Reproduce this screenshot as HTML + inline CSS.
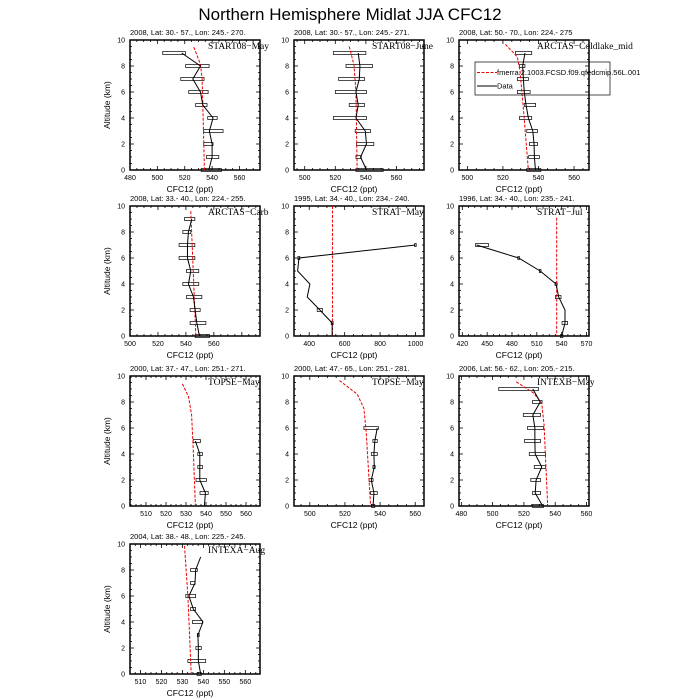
<!DOCTYPE html>
<html><head><meta charset="utf-8"><style>
body{margin:0;background:#fff;}
svg{display:block;font-family:"Liberation Sans",sans-serif;}
</style></head><body>
<svg id="chart" width="700" height="700">
<rect width="700" height="700" fill="#fff"/>
<text x="350" y="20" font-size="17" text-anchor="middle">Northern Hemisphere Midlat JJA CFC12</text>
</svg>
<script>
const panelTitles=["START08−May","START08−June","ARCTAS−Coldlake_mid","ARCTAS−Carb","STRAT−May","STRAT−Jul","TOPSE−May","TOPSE−May","INTEXB−May","INTEXA−Aug"];
const panelSubtitles=["2008, Lat:  30.- 57., Lon: 245.- 270.","2008, Lat:  30.- 57., Lon: 245.- 271.","2008, Lat:  50.- 70., Lon: 224.- 275","2008, Lat:  33.- 40., Lon: 224.- 255.","1995, Lat: 34.- 40., Lon: 234.- 240.","1996, Lat: 34.- 40., Lon: 235.- 241.","2000, Lat: 37.- 47., Lon: 251.- 271.","2000, Lat: 47.- 65., Lon: 251.- 281.","2006, Lat: 56.- 62., Lon: 205.- 215.","2004, Lat: 38.- 48., Lon: 225.- 245."];
const xDomains=[[480,575],[493,578],[495.3,568.4],[500,593],[314,1048],[416,573],[502,567],[491,565],[478.5,561.6],[505,567]];
const xTickStart=[480,500,500,500,400,420,510,500,480,510];
const xTickStep=[20,20,20,20,200,30,10,20,20,10];
const xTickEnd=[560,560,560,560,1000,570,560,560,560,560];
const dataAlts=[[9,8,7,6,5,4,3,2,1,0],[9,8,7,6,5,4,3,2,1,0],[9,8,7,6,5,4,3,2,1,0],[9,8,7,6,5,4,3,2,1,0],[7,6,5,4,3,2,1,0],[7,6,5,4,3,2,1,0],[5,4,3,2,1,0],[6,5,4,3,2,1,0],[9,8,7,6,5,4,3,2,1,0],[9,8,7,6,5,4,3,2,1,0]];
const dataVals=[[517.8,531.5,525.9,531.5,533.2,540.7,538,540,540,537.6],[535,536.1,535.7,533.5,535,533.5,539.6,540.4,536.5,540.4],[532.4,531.1,531.5,532,533,534.3,536.8,537.5,537.7,538.3],[544.2,541.8,541.1,541.1,543.5,541.8,545.4,546.6,547.8,549.7],[1000,341.9,334.4,403.8,388.8,460,529.4,529.4],[437.2,488,514,533.2,536.4,544,544,540],[534.7,536.9,536.9,536.9,539.7,539.2],[538.4,537,536.5,536.7,535,536.5,536],[525.7,530.4,525.7,527,527,527.2,531.4,527.8,527.2,532],[538.7,536.3,536,533.1,535.2,539.8,537.4,537.6,537.6,538.7]];
const boxAlts=[[9,8,7,6,5,4,3,2,1,0],[9,8,7,6,5,4,3,2,1,0],[9,8,7,6,5,4,3,2,1,0],[9,8,7,6,5,4,3,2,1,0],[7,6,2,1],[7,6,5,4,3,1,0],[5,4,3,2,1],[6,5,4,3,2,1,0],[9,8,7,6,5,4,3,2,1,0],[8,7,6,5,4,3,2,1,0]];
const boxLo=[[503.9,520.7,517.1,522.9,528,536.8,533.9,533.9,535.9,532],[518.7,527,522.2,520,529.1,518.7,533,533.9,533.5,533.5],[527,529.3,528.1,528.1,532,529.3,533.4,534.9,534.5,533.4],[539,537.8,535.1,535.1,540.4,537.8,540.4,543,543,546.6],[995,336,445,524],[436,487,513,532,532.4,540.4,538.5],[533.6,535.9,535.9,535,537],[530.8,535.9,535,535.9,533.8,534.6,535.2],[503.9,525.5,519.6,522.3,520.4,523.4,526.6,524.4,525.5,525.5],[533.9,533.9,531.6,533.9,534.8,537.1,536.4,532.6,537]];
const boxHi=[[520.5,537.8,534.1,537.1,536.3,543.7,548,540.7,544.9,546.8],[540,544.3,539.1,540.4,539.1,540.4,543,545.2,537,551.3],[536.2,532.4,534.3,535.3,538.4,536.2,539.4,539.4,540.5,541.3],[546.4,543.5,546.4,546.4,549.2,549.2,551.4,550.2,554.3,556.9],[1004,347,475,535],[451.6,489,515,534.5,539.2,547.2,541.5],[537.2,538.2,538.2,540.2,541.1],[539,538.4,538.4,537.2,536,538.4,537],[529.3,531.6,530.6,532.5,530.6,533.8,533.8,530.6,530.6,532.5],[537.1,536,536.3,536.3,539.5,538,539,541.1,539]];
const modelAlts=[[9.45,8.6,8.1,7.05,5,0],[9.5,8.1,6,0],[9.67,8.7,7.6,4.75,0],[9.6,0],[10,0],[9.1,0],[9.4,8.4,7,4.4,0],[9.65,8.6,7.5,5.7,3.2,0],[9.55,8.7,7.9,6.2,3.2,0],[9.85,6,0]];
const modelVals=[[526.6,529.8,531.5,532.7,533.2,534.4],[529.1,532.2,533.5,534.3],[521.4,528.1,529.6,531.5,534.3],[543.5,547.1],[531,531],[534,534],[528.2,531.3,532.8,533.6,534.7],[516.9,527,530.8,532.1,533.2,534.6],[515.1,526.1,531.4,532.9,534,535.2],[531,532.6,534.2]];

const NS="http://www.w3.org/2000/svg";
const svg=document.getElementById('chart');
const colX=[130,294,459], rowY=[40,206,376,544], PW=130, PH=130;
function mk(tag,attrs,parent){const e=document.createElementNS(NS,tag);for(const k in attrs)e.setAttribute(k,attrs[k]);(parent||svg).appendChild(e);return e;}
const placement=[[0,0],[0,1],[0,2],[1,0],[1,1],[1,2],[2,0],[2,1],[2,2],[3,0]];
placement.forEach((rc,i)=>{
  const x0=colX[rc[1]], y0=rowY[rc[0]];
  const d=xDomains[i];
  const xs=v=>x0+(v-d[0])/(d[1]-d[0])*PW;
  const ys=a=>y0+PH-a/10*PH;
  const g=mk('g',{});
  
  
  const fr=mk('rect',{x:x0,y:y0,width:PW,height:PH,fill:'none',stroke:'#000','stroke-width':1.5},g);
  
  
  for(let a=0;a<=10;a+=0.5){
    const maj=(a%2===0), L=maj?4:2, y=ys(a);
    mk('line',{x1:x0,x2:x0+L,y1:y,y2:y,stroke:'#000','stroke-width':0.8},g);
    mk('line',{x1:x0+PW,x2:x0+PW-L,y1:y,y2:y,stroke:'#000','stroke-width':0.8},g);
    if(maj){const t=mk('text',{x:x0-5,y:y+2.5,'font-size':7,'text-anchor':'end'},g);t.textContent=a;
      
      }
  }
  const st=xTickStep[i], mn=st/4;
  for(let v=xTickStart[i]-st;v<=d[1];v+=mn){
    if(v<d[0])continue;
    const maj=Math.abs((v-xTickStart[i])%st)<1e-6, L=maj?4:2, x=xs(v);
    mk('line',{x1:x,x2:x,y1:y0+PH,y2:y0+PH-L,stroke:'#000','stroke-width':0.8},g);
    mk('line',{x1:x,x2:x,y1:y0,y2:y0+L,stroke:'#000','stroke-width':0.8},g);
  }
  for(let v=xTickStart[i];v<=xTickEnd[i];v+=st){
    const t=mk('text',{x:xs(v),y:y0+PH+10,'font-size':7,'text-anchor':'middle'},g);t.textContent=v;
    
    
  }
  const xt=mk('text',{x:x0+PW/2-5,y:y0+PH+22,'font-size':8.5,'text-anchor':'middle'},g);xt.textContent='CFC12 (ppt)';
  
  
  if(rc[1]===0){
    const yt=mk('text',{x:0,y:0,'font-size':8.5,'text-anchor':'middle',transform:`translate(${x0-20},${y0+PH/2}) rotate(-90)`},g);yt.textContent='Altitude (km)';
    
    
  }
  const sub=mk('text',{x:x0,y:y0-5,'font-size':7.5},g);sub.textContent=panelSubtitles[i];
  
  
  boxAlts[i].forEach((a,j)=>{
    const b=mk('rect',{x:xs(boxLo[i][j]),y:ys(a)-1.5,width:Math.max(1.5,xs(boxHi[i][j])-xs(boxLo[i][j])),height:3,fill:'none',stroke:'#000','stroke-width':0.7},g);
    
    
  });
  const mp=modelAlts[i].map((a,j)=>xs(modelVals[i][j])+','+ys(a)).join(' ');
  const ml=mk('polyline',{points:mp,fill:'none',stroke:'#e00','stroke-width':1,'stroke-dasharray':'3,1.5'},g);
  
  
  const dp=dataAlts[i].map((a,j)=>xs(dataVals[i][j])+','+ys(a)).join(' ');
  const dl=mk('polyline',{points:dp,fill:'none',stroke:'#000','stroke-width':1},g);
  
  
  const tt=mk('text',{x:x0+PW-52,y:y0+9,'font-size':9.5,'font-family':'Liberation Serif, serif'},g);tt.textContent=panelTitles[i];
  
  
});
const lg=mk('g',{});


mk('rect',{x:475,y:62,width:135,height:33,fill:'none',stroke:'#000','stroke-width':0.7},lg);
mk('line',{x1:477,x2:497,y1:72.5,y2:72.5,stroke:'#e00','stroke-width':1,'stroke-dasharray':'3,1.5'},lg);
const l1=mk('text',{x:497,y:75,'font-size':7.5},lg);l1.textContent='fmerra.2.1003.FCSD.f09.qfedcmip.56L.001';


mk('line',{x1:477,x2:497,y1:86,y2:86,stroke:'#000','stroke-width':1},lg);
const l2=mk('text',{x:497,y:88.5,'font-size':7.5},lg);l2.textContent='Data';


</script>
</body></html>
